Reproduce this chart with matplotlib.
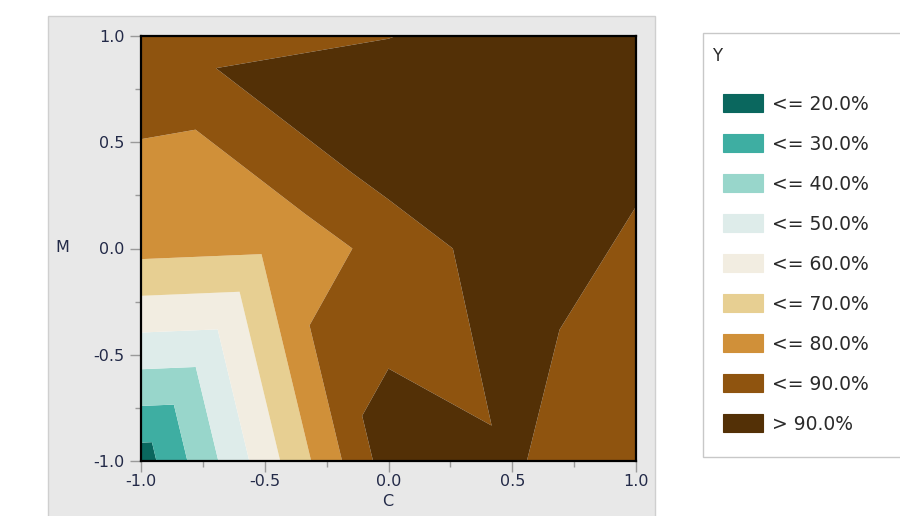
import matplotlib
matplotlib.use("Agg")
import matplotlib.pyplot as plt
import matplotlib.tri as mtri
from matplotlib.patches import Rectangle

# design points (C, M) and measured response Y in percent
c_pts = [-1.0, 0.0, 0.5, 1.0, -1.0, -0.5, 0.0, 0.5, 0.0, -1.0, 0.0, 1.0]
m_pts = [-1.0, -1.0, -1.0, -1.0, 0.0, 0.0, 0.0, 0.0, 0.5, 1.0, 1.0, 1.0]
y_pts = [15.0, 95.0, 91.3, 80.3, 72.9, 71.5, 83.5, 96.0, 97.6, 86.7, 89.8, 96.5]

# triangulation of the design points (indices into the lists above)
tri_idx = [
    [0, 1, 5], [0, 5, 4], [5, 1, 6], [6, 1, 2], [6, 2, 7], [2, 3, 7],
    [3, 11, 7], [6, 7, 8], [5, 6, 8], [4, 5, 9], [5, 8, 9], [9, 8, 10],
    [8, 7, 11], [8, 11, 10],
]

levels = [0, 20, 30, 40, 50, 60, 70, 80, 90, 100]
band_labels = ["<= 20.0%", "<= 30.0%", "<= 40.0%", "<= 50.0%", "<= 60.0%",
               "<= 70.0%", "<= 80.0%", "<= 90.0%", "> 90.0%"]
band_colors = ["#0a675e", "#3eaea2", "#98d6cb", "#deecea", "#f2ede1",
               "#e7cf92", "#d09039", "#8f540f", "#533006"]

ticks = [-1.0, -0.5, 0.0, 0.5, 1.0]
minor_ticks = [-0.75, -0.25, 0.25, 0.75]
tick_labels = ["-1.0", "-0.5", "0.0", "0.5", "1.0"]

W, H = 900, 516
fig = plt.figure(figsize=(W / 100, H / 100), dpi=100)
fig.patch.set_facecolor("white")


def fx(px):
    return px / W


def fy(py):
    return 1 - py / H


# grey panel behind the plot
fig.add_artist(Rectangle((fx(48), -0.01), fx(655) - fx(48), fy(16) + 0.01,
                         transform=fig.transFigure, facecolor="#e8e8e8",
                         edgecolor="#cfcfcf", linewidth=1.0, zorder=-5))

ax = fig.add_axes([fx(141), fy(461), fx(636) - fx(141), fy(36) - fy(461)])
tri = mtri.Triangulation(c_pts, m_pts, tri_idx)
ax.tricontourf(tri, y_pts, levels=levels, colors=band_colors, antialiased=True)

ax.set_xlim(-1, 1)
ax.set_ylim(-1, 1)
tick_font = dict(family=["DejaVu Sans"], size=11.5, color="#232a48")
ax.set_xticks(ticks)
ax.set_yticks(ticks)
ax.set_xticklabels(tick_labels, fontdict=tick_font)
ax.set_yticklabels(tick_labels, fontdict=tick_font)
ax.set_xticks(minor_ticks, minor=True)
ax.set_yticks(minor_ticks, minor=True)
ax.tick_params(which="major", length=8, width=1, color="#9a9a9a", pad=4)
ax.tick_params(axis="x", which="major", pad=1.5)
ax.tick_params(which="minor", length=4, width=1, color="#9a9a9a")
for sp in ax.spines.values():
    sp.set_color("black")
    sp.set_linewidth(1.6)

fig.text(fx(388), fy(502), "C", ha="center", va="center", **tick_font)
fig.text(fx(62), fy(248), "M", ha="center", va="center", **tick_font)

# legend panel
fig.add_artist(Rectangle((fx(703), fy(457)), 0.5, fy(33) - fy(457),
                         transform=fig.transFigure, facecolor="white",
                         edgecolor="#c8c8c8", linewidth=1.0, zorder=-4))
leg_font = dict(family=["DejaVu Sans"], size=13.5, color="#2a2a2a")
fig.text(fx(712), fy(56), "Y", ha="left", va="center",
         family=["DejaVu Sans"], size=12, color="#2a2a2a")
for i, (lab, col) in enumerate(zip(band_labels, band_colors)):
    yc = 103 + 40 * i
    fig.add_artist(Rectangle((fx(723), fy(yc + 9)), fx(40), 18 / H,
                             transform=fig.transFigure, facecolor=col,
                             edgecolor=col, linewidth=0.8, zorder=1))
    fig.text(fx(772), fy(yc + 2), lab, ha="left", va="center", **leg_font)

fig.savefig("out.png", dpi=100)
